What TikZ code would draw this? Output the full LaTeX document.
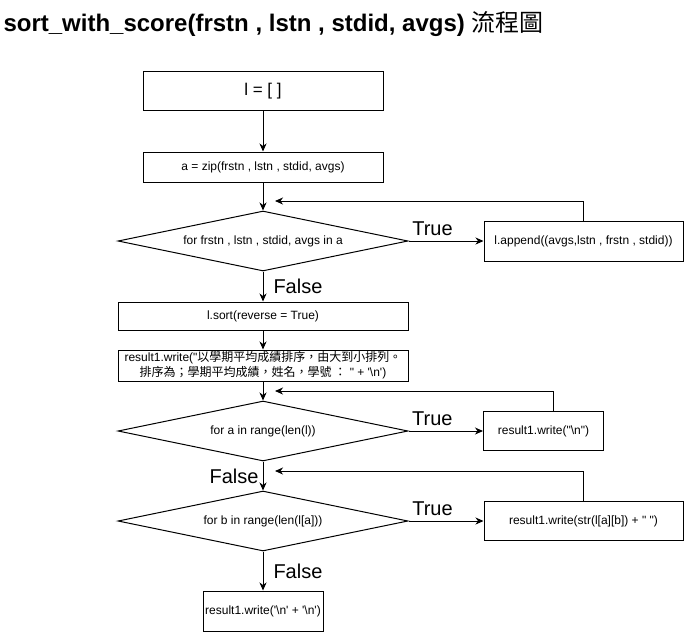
\documentclass[tikz,border=0pt]{standalone}
\usepackage{fontspec}
\newfontfamily\arial{Liberation Sans}
\newfontfamily\cjk{Noto Sans CJK TC}
\usetikzlibrary{shapes.geometric,arrows.meta}

\tikzset{
  stepbox/.style={draw, rectangle, inner sep=1pt, align=center, font=\arial\fontsize{12}{15}\selectfont},
  decision/.style={draw, diamond, shape aspect=5, inner sep=0pt, minimum width=290pt, minimum height=60pt, font=\arial\fontsize{12}{15}\selectfont},
  flow/.style={->},
  answer/.style={font=\arial\fontsize{20}{24}\selectfont, inner sep=2pt}
}

\begin{document}
\begin{tikzpicture}[x=1pt, y=-1pt, line width=1pt, >={Stealth[length=8pt,width=7pt,inset=2.5pt]}]
  \useasboundingbox (0,0) rectangle (685,633);
  \node[anchor=base west, inner sep=0pt, font=\arial\fontsize{24}{28}\selectfont] (title) at (3,31)
    {\textbf{sort\_with\_score(frstn , lstn , stdid, avgs)} {\cjk 流程圖}};

  \node[stepbox, minimum width=240pt, minimum height=39pt, font=\arial\fontsize{17}{20}\selectfont] (init) at (263,91) {l = [ ]};
  \node[stepbox, minimum width=240pt, minimum height=30pt] (zipped) at (263,167) {a = zip(frstn , lstn , stdid, avgs)};
  \node[decision] (forrec) at (263,241) {for frstn , lstn , stdid, avgs in a};
  \node[stepbox, minimum width=199pt, minimum height=40pt] (append) at (583.5,241) {l.append((avgs,lstn , frstn , stdid))};
  \node[stepbox, minimum width=290pt, minimum height=28pt] (sorted) at (263,316) {l.sort(reverse = True)};
  \node[stepbox, minimum width=290pt, minimum height=31pt] (header) at (263,365.5)
    {result1.write("{\cjk 以學期平均成績排序，由大到小排列。}\\{\cjk 排序為；學期平均成績，姓名，學號 ：} " + '\textbackslash n')};
  \node[decision] (fora) at (263,431) {for a in range(len(l))};
  \node[stepbox, minimum width=120pt, minimum height=39pt] (newline) at (543.5,431) {result1.write("\textbackslash n")};
  \node[decision] (forb) at (263,521) {for b in range(len(l[a]))};
  \node[stepbox, minimum width=199pt, minimum height=39pt] (cell) at (583.5,521) {result1.write(str(l[a][b]) + " ")};
  \node[stepbox, minimum width=120pt, minimum height=40pt] (blank) at (263,611) {result1.write('\textbackslash n' + '\textbackslash n')};

  \coordinate (back1) at (275,201);
  \coordinate (back2) at (275,391);
  \coordinate (back3) at (275,471);

  \draw[flow] (init) -- (zipped);
  \draw[flow] (zipped) -- (forrec);
  \draw[flow] (forrec) -- node[answer, above=3pt, pos=0.32] {True} (append);
  \draw[flow] (append.north) |- (back1);
  \draw[flow] (forrec) -- node[answer, right, xshift=8pt] {False} (sorted);
  \draw[flow] (sorted) -- (header);
  \draw[flow] (header) -- (fora);
  \draw[flow] (fora) -- node[answer, above=3pt, pos=0.32] {True} (newline);
  \draw[flow] ([xshift=10pt]newline.north) |- (back2);
  \draw[flow] (fora) -- node[answer, left, xshift=-2pt] {False} (forb);
  \draw[flow] (forb) -- node[answer, above=3pt, pos=0.32] {True} (cell);
  \draw[flow] (cell.north) |- (back3);
  \draw[flow] (forb) -- node[answer, right, xshift=8pt] {False} (blank);
\end{tikzpicture}
\end{document}
